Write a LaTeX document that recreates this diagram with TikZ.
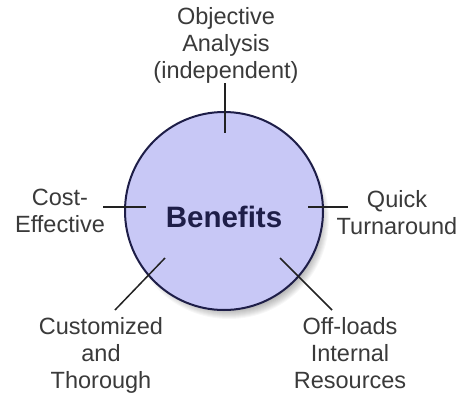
\documentclass[tikz,border=0pt]{standalone}
\usepackage{fontspec}
\setmainfont{Liberation Sans}
\definecolor{circfill}{HTML}{C8C8F6}
\definecolor{circline}{HTML}{1E1E48}
\definecolor{labtext}{HTML}{3A3A3A}
\definecolor{linecol}{HTML}{222222}
\tikzset{
  lab/.style={font=\fontsize{23.5}{27}\selectfont, text=labtext, align=center, inner sep=0pt, anchor=base},
  conn/.style={draw=linecol, line width=1.5pt},
}
\begin{document}
\begin{tikzpicture}[x=1pt,y=-1pt]
\useasboundingbox (0,0) rectangle (457,396);
\fill[white] (0,0) rectangle (457,396);
% shadow
\foreach \k in {1,...,14} {
  \fill[black, opacity=0.03] (229,219) circle ({86+\k});
}
\node[circle, minimum size=198pt, inner sep=0pt, fill=circfill, draw=circline, line width=2pt] (c) at (224,211) {};
\node[font=\fontsize{29.5}{34}\selectfont\bfseries, text=circline, anchor=base] (ben) at (224,227) {Benefits};
% labels
\node[lab] (obj) at (226,78) {Objective\\Analysis\\(independent)};
\node[lab] (cost) at (60,232) {Cost-\\Effective};
\node[lab] (quick) at (397,234) {Quick\\Turnaround};
\node[lab] (cust) at (101,388) {Customized\\and\\Thorough};
\node[lab] (off) at (350,388) {Off-loads\\Internal\\Resources};
% connector ends
\coordinate (t1) at (225,83);  \coordinate (t2) at (225,133);
\coordinate (l1) at (103,207); \coordinate (l2) at (146,207);
\coordinate (r1) at (308,207); \coordinate (r2) at (348,207);
\coordinate (a1) at (165,258); \coordinate (a2) at (115,310);
\coordinate (b1) at (280,258); \coordinate (b2) at (332,310);
\draw[conn] (t1) -- (t2);
\draw[conn] (l1) -- (l2);
\draw[conn] (r1) -- (r2);
\draw[conn] (a1) -- (a2);
\draw[conn] (b1) -- (b2);
\end{tikzpicture}
\end{document}
